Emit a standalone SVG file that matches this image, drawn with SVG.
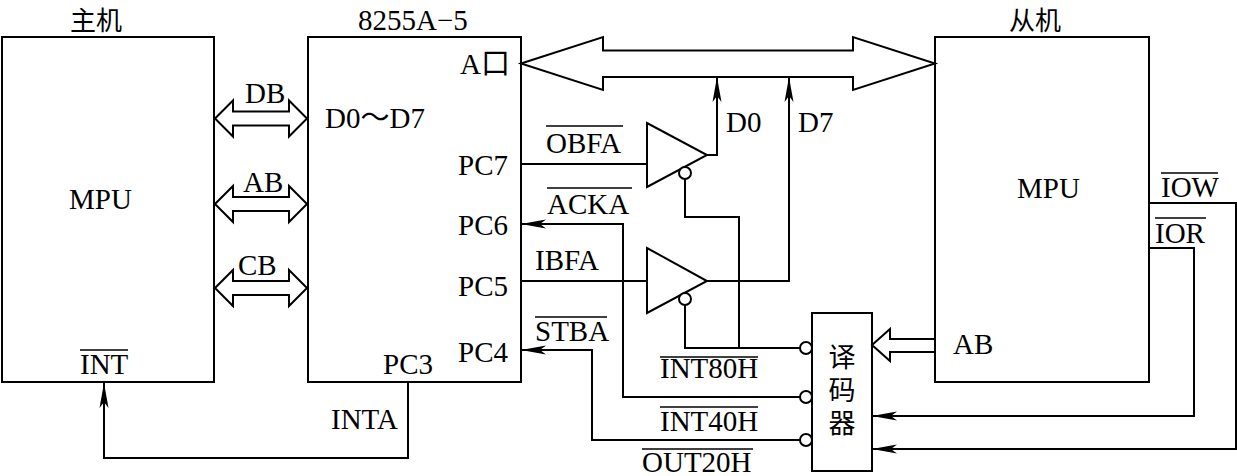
<svg xmlns="http://www.w3.org/2000/svg" width="1237" height="476" viewBox="0 0 1237 476">
<style>
.box{fill:none;stroke:#000;stroke-width:2}
.ln{fill:none;stroke:#000;stroke-width:2}
.hb{fill:#fff;stroke:#000;stroke-width:2;stroke-linejoin:miter}
.bub{fill:#fff;stroke:#000;stroke-width:2}
.ov{stroke:#000;stroke-width:1.5}
text{font-family:"Liberation Serif","Noto Sans CJK SC",serif;font-size:29px;fill:#000}
.vt{font-family:"Noto Sans CJK SC",sans-serif;font-size:27px;writing-mode:vertical-rl;letter-spacing:6px}
.ttl{font-family:"Noto Sans CJK SC",sans-serif;font-size:26px}
</style>
<defs>
<marker id="ar" viewBox="-26 -6 27 12" refX="0" refY="0" markerWidth="27" markerHeight="12" markerUnits="userSpaceOnUse" orient="auto">
<path d="M0,0 L-25,-4.5 L-19,0 L-25,4.5 Z" fill="#000"/>
</marker>
<polygon id="dbl" points="215,0 233,-18 233,-7 289,-7 289,-18 307,0 289,18 289,7 233,7 233,18"/>
</defs>
<rect width="1237" height="476" fill="#fff"/>

<g id="host">
<rect class="box" x="2" y="37" width="212" height="345"/>
<text class="ttl" x="70" y="30">主机</text>
<text x="69" y="209">MPU</text>
<text x="80" y="374">INT</text>
<line class="ov" x1="80" y1="350" x2="128" y2="350"/>
</g>

<g id="ppi">
<rect class="box" x="308" y="37" width="213" height="345"/>
<text x="358" y="30">8255A−5</text>
<text x="325" y="128">D0～D7</text>
<text x="460" y="74">A口</text>
<text x="458" y="175">PC7</text>
<text x="458" y="235">PC6</text>
<text x="458" y="296">PC5</text>
<text x="458" y="362">PC4</text>
<text x="383" y="374">PC3</text>
</g>

<g id="slave">
<rect class="box" x="935" y="37" width="214" height="345"/>
<text class="ttl" x="1009" y="30">从机</text>
<text x="1017" y="198">MPU</text>
<text x="953" y="354">AB</text>
<text x="1161" y="197">IOW</text>
<line class="ov" x1="1161" y1="173" x2="1218" y2="173"/>
<text x="1155" y="243">IOR</text>
<line class="ov" x1="1155" y1="218" x2="1206" y2="218"/>
</g>

<g id="decoder">
<rect class="box" x="812" y="313" width="60" height="158"/>
<text class="vt" x="842" y="343">译码器</text>
<circle class="bub" cx="806" cy="348" r="6"/>
<circle class="bub" cx="806" cy="397" r="6"/>
<circle class="bub" cx="806" cy="440" r="6"/>
</g>

<g id="buffer1">
<polygon class="hb" points="647,123 647,187 707,155"/>
<circle class="bub" cx="685" cy="173" r="6"/>
</g>

<g id="buffer2">
<polygon class="hb" points="647,248 647,313 707,281"/>
<circle class="bub" cx="685" cy="299" r="6"/>
</g>

<g id="connectors">
<use href="#dbl" class="hb" transform="translate(0,118.5)"/>
<use href="#dbl" class="hb" transform="translate(0,204)"/>
<use href="#dbl" class="hb" transform="translate(0,288)"/>
<polygon class="hb" points="521,63.5 603,37 603,50.5 853,50.5 853,37 935,63.5 853,90 853,77 603,77 603,90"/>
<polygon class="hb" points="872,345 890,329 890,339 935,339 935,352 890,352 890,361"/>
<path class="ln" d="M408,382 V458 H104 V383" marker-end="url(#ar)"/>
<path class="ln" d="M521,164 H647"/>
<path class="ln" d="M707,155 H717 V77" marker-end="url(#ar)"/>
<path class="ln" d="M707,281 H789 V77" marker-end="url(#ar)"/>
<path class="ln" d="M685,179 V217 H739 V348"/>
<path class="ln" d="M685,305 V348 H800"/>
<path class="ln" d="M800,397 H623 V224 H521" marker-end="url(#ar)"/>
<path class="ln" d="M521,281 H647"/>
<path class="ln" d="M800,440 H592 V350 H521" marker-end="url(#ar)"/>
<path class="ln" d="M1149,248 H1194 V416 H872" marker-end="url(#ar)"/>
<path class="ln" d="M1149,203 H1236 V449 H872" marker-end="url(#ar)"/>
<text x="245" y="103">DB</text>
<text x="243" y="192">AB</text>
<text x="238" y="275">CB</text>
<text x="331" y="429">INTA</text>
<text x="726" y="132">D0</text>
<text x="798" y="132">D7</text>
<text x="546" y="153">OBFA</text>
<line class="ov" x1="546" y1="126" x2="623" y2="126"/>
<text x="547" y="214">ACKA</text>
<line class="ov" x1="547" y1="188" x2="632" y2="188"/>
<text x="535" y="270">IBFA</text>
<text x="535" y="341">STBA</text>
<line class="ov" x1="535" y1="317" x2="607" y2="317"/>
<text x="660" y="378">INT80H</text>
<line class="ov" x1="660" y1="357" x2="758" y2="357"/>
<text x="660" y="431">INT40H</text>
<line class="ov" x1="660" y1="407" x2="758" y2="407"/>
<text x="642" y="472">OUT20H</text>
<line class="ov" x1="642" y1="449" x2="753" y2="449"/>
</g>
</svg>
